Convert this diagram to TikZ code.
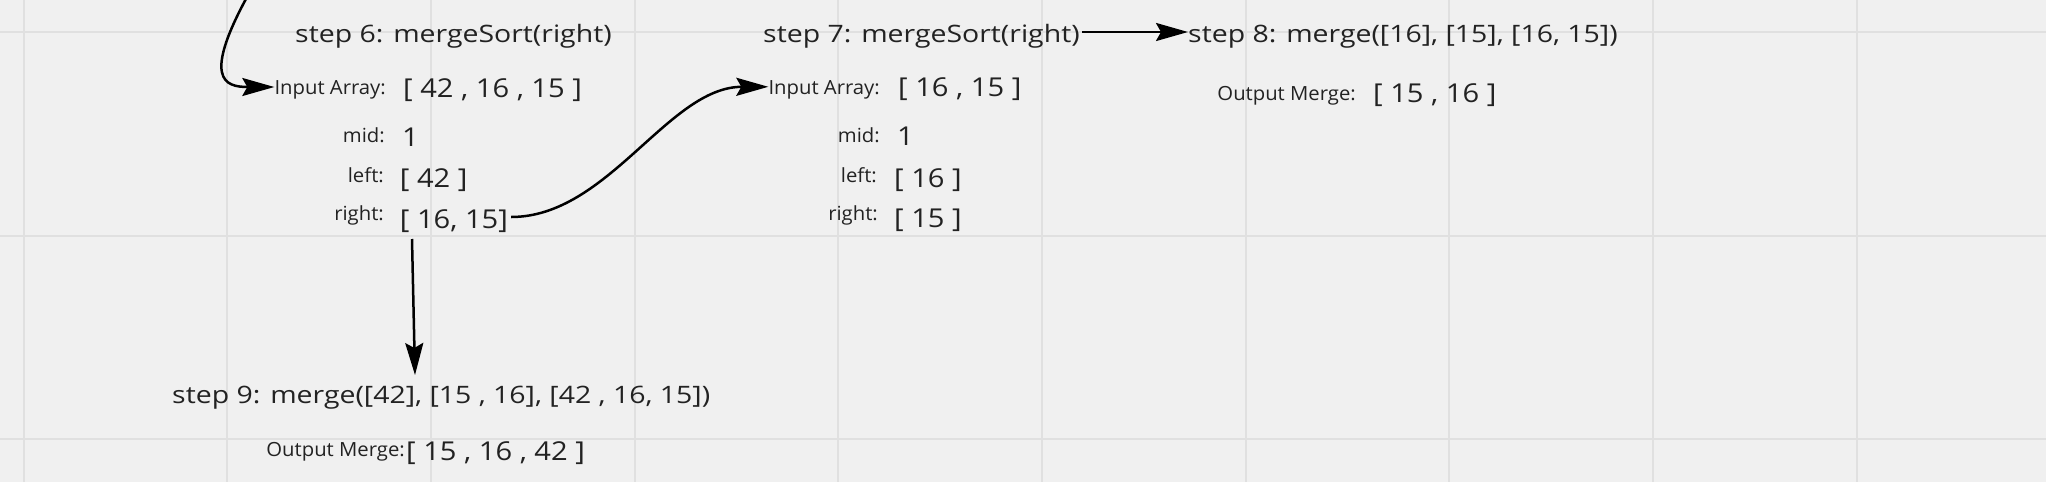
\documentclass[tikz,border=0pt]{standalone}
\usepackage{fontspec}
\setmainfont{Open Sans}
\newfontfamily\titlefont[FakeStretch=1.185]{Open Sans}
\newfontfamily\valfont[FakeStretch=1.12]{Open Sans}
\newfontfamily\labfont[FakeStretch=1.04]{Open Sans}
\usetikzlibrary{arrows.meta}
\definecolor{bg}{HTML}{F0F0F0}
\definecolor{gridc}{HTML}{E0E0E0}
\definecolor{ink}{HTML}{222222}
\begin{document}
\begin{tikzpicture}[x=1pt,y=-1pt,
  title/.style={inner sep=0pt, font=\titlefont\fontsize{24}{28}\selectfont, text=ink, anchor=base west},
  lab/.style={inner sep=0pt, font=\labfont\fontsize{19.5}{23}\selectfont, text=ink, anchor=base east},
  val/.style={inner sep=0pt, font=\valfont\fontsize{26}{30}\selectfont, text=ink, anchor=base west},
  conn/.style={draw=black, line width=2.5pt, -{Stealth[length=32pt,width=18pt,inset=5pt]}}]
\fill[bg] (0,0) rectangle (2046,482);
\useasboundingbox (0,0) rectangle (2046,482);
\clip (0,0) rectangle (2046,482);
\foreach \i in {0,...,9} \draw[gridc, line width=2pt] (23.5+203.7*\i,0) -- ++(0,482);
\foreach \i in {0,1,2} \draw[gridc, line width=2pt] (0,32+203.7*\i) -- ++(2046,0);

% step 6
\node[title] (s6) at (295,42) {step 6: mergeSort(right)};
\node[lab] (in6l) at (386,94.5) {Input Array:};
\node[val] (in6v) at (403,97) {[ 42 , 16 , 15 ]};
\node[lab] (mid6l) at (385,142.5) {mid:};
\node[val] (mid6v) at (402,146) {1};
\node[lab] (l6l) at (384,182.5) {left:};
\node[val] (l6v) at (399.7,187) {[ 42 ]};
\node[lab] (r6l) at (384,220.5) {right:};
\node[val] (r6v) at (399.7,228) {[ 16, 15]};

% step 7
\node[title] (s7) at (763,42) {step 7: mergeSort(right)};
\node[lab] (in7l) at (880,94.3) {Input Array:};
\node[val] (in7v) at (898,96.5) {[ 16 , 15 ]};
\node[lab] (mid7l) at (880,142) {mid:};
\node[val] (mid7v) at (897,145.5) {1};
\node[lab] (l7l) at (877,182) {left:};
\node[val] (l7v) at (894,187.5) {[ 16 ]};
\node[lab] (r7l) at (878,220) {right:};
\node[val] (r7v) at (894,227) {[ 15 ]};

% step 8
\node[title] (s8) at (1188,42) {step 8: merge([16], [15], [16, 15])};
\node[lab] (o8l) at (1356,100) {Output Merge:};
\node[val] (o8v) at (1373,102) {[ 15 , 16 ]};

% step 9
\node[title] (s9) at (172,403) {step 9: merge([42], [15 , 16], [42 , 16, 15])};
\node[lab] (o9l) at (405,456.7) {Output Merge:};
\node[val] (o9v) at (406,460) {[ 15 , 16 , 42 ]};

% connectors
\coordinate (top) at (252,-12);
\draw[conn] (top) .. controls (200,80) and (225,87) .. ([yshift=7.5pt]in6l.base west);
\draw[conn, shorten <=3pt] ([yshift=11pt]r6v.base east) .. controls +(100,0) and +(-100,0) .. ([yshift=7.5pt]in7l.base west);
\draw[conn, shorten <=2.5pt] ([yshift=10pt]s7.base east) -- ([yshift=10pt]s8.base west);
\draw[conn] ([xshift=12.3pt,yshift=-11pt]r6v.base west) -- ([xshift=243pt,yshift=28pt]s9.base west);
\end{tikzpicture}
\end{document}
